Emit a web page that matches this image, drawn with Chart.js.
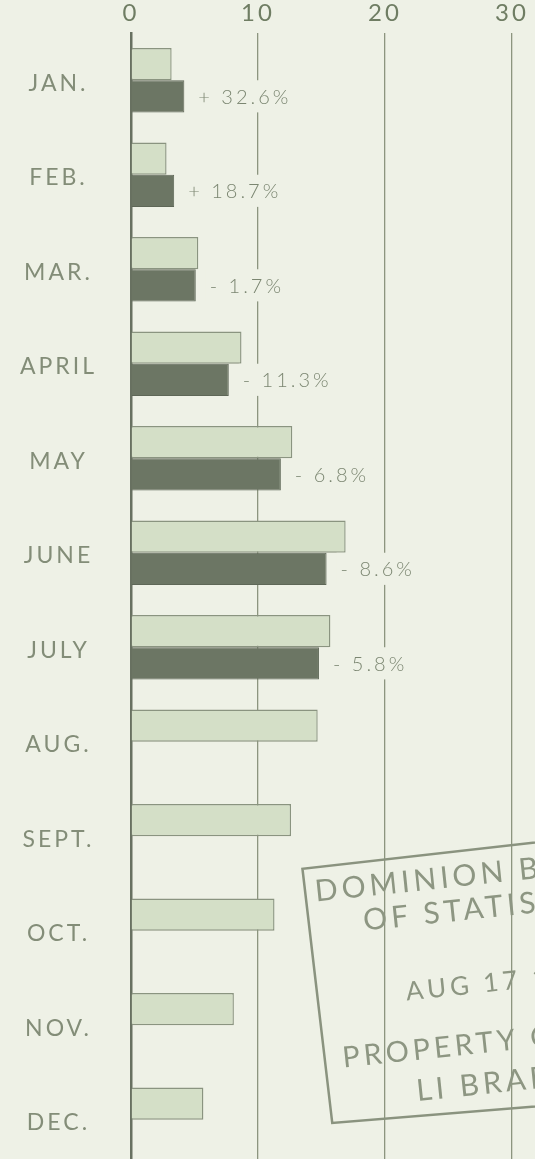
<!DOCTYPE html>
<html>
<head>
<meta charset="utf-8">
<script src="https://cdn.jsdelivr.net/npm/chart.js@4"></script>
<style>
  html, body { margin: 0; padding: 0; background: #eef1e6; overflow: hidden; }
  canvas { display: block; }
</style>
</head>
<body>
<canvas id="monthly-chart" width="535" height="1170"></canvas>
<script>
// monthly values
const months = ['JAN.', 'FEB.', 'MAR.', 'APRIL', 'MAY', 'JUNE', 'JULY', 'AUG.', 'SEPT.', 'OCT.', 'NOV.', 'DEC.'];
const lastYear = [3.2, 2.8, 5.3, 8.7, 12.7, 16.9, 15.7, 14.7, 12.6, 11.3, 8.1, 5.7];
const thisYear = [4.2, 3.4, 5.1, 7.7, 11.8, 15.4, 14.8, null, null, null, null, null];
const changes = ['+ 32.6%', '+ 18.7%', '- 1.7%', '- 11.3%', '- 6.8%', '- 8.6%', '- 5.8%'];
const stampLines = ['DOMINION BUREAU', 'OF STATISTICS', 'AUG 17 1', 'PROPERTY OF THE', 'LI BRARY'];

const BG = '#eef1e6';
const INK = '#838d78';
const FONT = 'Lato, "Open Sans", sans-serif';

// the print has wide letter spacing, canvas can do that directly
const spacing = {
  id: 'spacing',
  beforeUpdate(chart) { chart.ctx.letterSpacing = '3px'; },
  beforeDraw(chart) {
    const ctx = chart.ctx;
    ctx.letterSpacing = '3px';
    ctx.save();
    ctx.fillStyle = BG;
    ctx.fillRect(0, 0, chart.width, chart.height);
    ctx.restore();
  }
};

// percent change next to each dark bar, on a paper coloured patch
const changeLabels = {
  id: 'changeLabels',
  afterDatasetsDraw(chart) {
    const ctx = chart.ctx;
    const meta = chart.getDatasetMeta(1);
    ctx.save();
    ctx.font = '300 20px ' + FONT;
    ctx.letterSpacing = '3px';
    ctx.textBaseline = 'middle';
    meta.data.forEach((bar, i) => {
      if (thisYear[i] == null || !changes[i]) return;
      const x = bar.x + 14;
      const w = ctx.measureText(changes[i]).width;
      ctx.fillStyle = BG;
      ctx.fillRect(x - 4, bar.y - bar.height / 2, w + 8, bar.height);
      ctx.fillStyle = '#7b8671';
      ctx.fillText(changes[i], x, bar.y + 1);
    });
    ctx.restore();
  }
};

// library stamp in the lower right corner
const stamp = {
  id: 'stamp',
  afterDraw(chart) {
    const ctx = chart.ctx;
    const x0 = chart.scales.x.getPixelForValue(13.5);
    const y0 = chart.scales.y.getPixelForValue(9) - 62;
    ctx.save();
    ctx.translate(x0, y0);
    ctx.rotate(-0.105);
    ctx.strokeStyle = '#8a937f';
    ctx.lineWidth = 2.5;
    ctx.beginPath();
    ctx.moveTo(260, -2);
    ctx.lineTo(0, 0);
    ctx.lineTo(3, 256);
    ctx.lineTo(260, 262);
    ctx.stroke();
    ctx.fillStyle = '#8d9682';
    ctx.font = '30px ' + FONT;
    ctx.letterSpacing = '4px';
    ctx.fillText(stampLines[0], 10, 34);
    ctx.fillText(stampLines[1], 55, 68);
    ctx.font = '26px ' + FONT;
    ctx.fillText(stampLines[2], 90, 142);
    ctx.font = '29px ' + FONT;
    ctx.fillText(stampLines[3], 20, 202);
    ctx.font = '30px ' + FONT;
    ctx.fillText(stampLines[4], 90, 243);
    ctx.restore();
  }
};

const ctx = document.getElementById('monthly-chart').getContext('2d');
new Chart(ctx, {
  type: 'bar',
  data: {
    labels: months,
    datasets: [
      {
        label: 'Previous year',
        data: lastYear,
        backgroundColor: '#d4dfc7',
        borderColor: '#8a9480',
        borderWidth: 1.4,
        borderSkipped: 'left',
      },
      {
        label: 'Current year',
        data: thisYear,
        backgroundColor: '#6c7664',
        borderColor: '#5e6757',
        borderWidth: 1,
        borderSkipped: 'left',
      },
    ],
  },
  options: {
    indexAxis: 'y',
    responsive: false,
    animation: false,
    categoryPercentage: 0.68,
    barPercentage: 1,
    layout: { padding: { top: 0, right: 23, bottom: 3, left: 0 } },
    plugins: {
      legend: { display: false },
      tooltip: { enabled: false },
    },
    scales: {
      x: {
        position: 'top',
        min: 0,
        max: 30,
        afterFit(scale) { scale.height = 33; },
        ticks: {
          stepSize: 10,
          padding: 5,
          color: '#6f7d63',
          font: { family: FONT, size: 24, weight: 400 },
        },
        grid: {
          drawTicks: false,
          lineWidth: 1.3,
          color: (c) => (c.tick && c.tick.value === 0 ? 'rgba(0,0,0,0)' : '#8c957f'),
        },
        border: { display: false },
      },
      y: {
        afterFit(scale) {
          // tick padding is only there to centre the month names, not to shrink the plot
          scale.width = 131;
          scale.paddingTop = 0;
          scale.paddingBottom = 0;
        },
        ticks: {
          crossAlign: 'center',
          padding: 26,
          labelOffset: 3,
          color: INK,
          font: { family: FONT, size: 23, weight: 400 },
        },
        grid: { display: false },
        border: { color: '#687161', width: 2.5 },
      },
    },
  },
  plugins: [spacing, changeLabels, stamp],
});
</script>
</body>
</html>
